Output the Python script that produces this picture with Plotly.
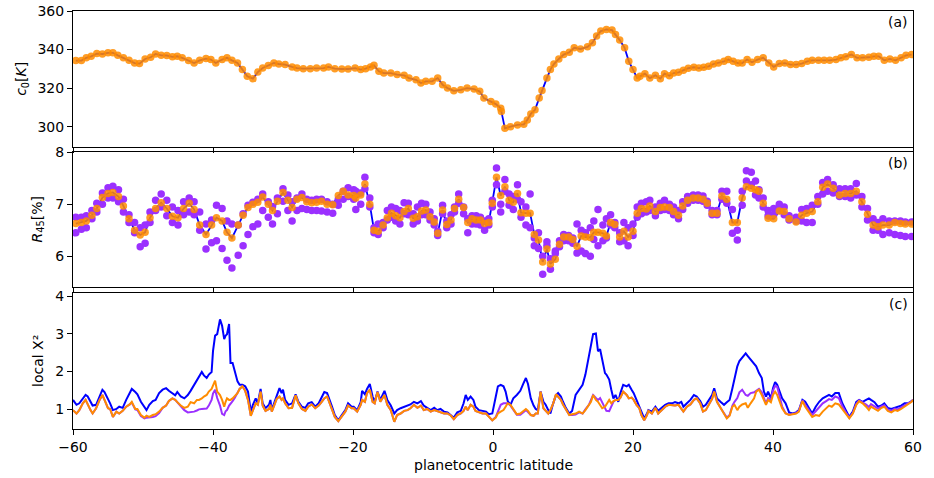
import plotly.graph_objects as go

# ---------------- panel (a): c0 [K] ----------------
lat_a = [-59.6,-58.8,-58.1,-57.4,-56.6,-55.8,-55.0,-54.3,-53.6,-52.8,
         -52.0,-51.2,-50.5,-49.7,-48.9,-48.2,-47.4,-46.6,-45.8,-45.1,
         -44.4,-43.5,-42.7,-41.9,-41.0,-40.3,-39.6,-38.7,-38.0,-37.3,
         -36.5,-35.8,-35.1,-34.3,-33.6,-32.9,-32.1,-31.3,-30.6,-29.7,
         -28.7,-28.0,-27.1,-26.1,-25.2,-24.2,-23.5,-22.6,-21.6,-20.7,
         -19.7,
         -18.9,-18.2,-17.5,-17.0,-16.3,-15.6,-14.6,-13.7,-12.7,-12.0,
         -11.0,-10.3,-9.6,-8.7,-7.9,-7.2,-6.5,-5.6,-4.6,-3.7,
         -2.7,-1.9,-1.3,-0.3,0.4,1.1,1.2,1.7,2.5,3.5,
         4.4,4.9,5.4,6.0,6.6,7.0,7.7,8.2,8.7,9.4,
         10.1,10.9,11.6,12.5,13.5,14.2,14.8,15.4,16.2,17.0,
         17.5,18.1,18.8,19.4,20.0,20.6,
         21.0,21.7,22.4,23.2,23.9,24.5,25.2,25.8,26.5,27.2,
         27.9,28.7,29.4,30.1,30.8,31.5,32.2,33.0,33.6,34.3,
         35.0,35.6,36.3,37.0,37.8,38.6,39.4,40.1,40.9,41.7,
         42.5,43.3,44.1,44.9,45.6,46.5,47.3,48.1,49.0,49.7,
         50.4,51.2,52.0,52.8,53.7,54.4,55.1,55.9,56.7,57.5,
         58.3,59.0,59.8]
c0 = [334.3,334.3,335.7,336.5,337.9,337.7,338.3,338.3,337.0,335.7,
      334.4,333.0,332.7,335.1,336.0,337.7,337.0,336.9,336.2,336.5,
      335.7,334.3,333.0,334.4,335.3,334.8,333.0,334.8,335.7,334.4,
      333.0,329.6,326.1,324.9,328.3,330.4,331.7,333.0,332.5,332.2,
      331.0,330.4,330.1,330.1,330.4,330.4,331.0,330.1,329.9,329.9,
      330.4,
      329.6,330.1,331.0,331.8,328.7,327.8,327.8,327.0,326.6,325.2,
      324.3,322.6,323.5,323.5,325.2,321.7,320.0,318.6,319.1,320.0,
      319.5,318.3,314.8,313.0,311.7,309.6,307.8,299.1,300.0,300.9,
      301.2,303.5,306.6,308.7,314.8,318.8,325.2,329.6,332.5,335.1,
      337.4,338.6,340.9,340.3,341.4,343.5,347.0,349.6,350.4,350.1,
      347.8,344.9,340.9,333.9,329.6,325.2,
      326.1,327.5,325.2,326.6,324.9,327.5,326.4,327.8,328.2,329.2,
      330.3,330.8,330.4,330.8,331.3,332.5,333.0,333.9,334.8,333.9,
      333.0,333.0,334.8,333.4,334.8,335.7,333.0,331.0,332.7,333.0,
      332.2,332.2,332.7,333.9,334.4,334.4,334.4,334.4,334.8,335.7,
      336.2,337.4,335.7,335.7,336.0,336.5,336.5,334.4,335.1,334.4,
      335.7,337.0,337.4]

# ---------------- panel (b): R45 [%] ----------------
lat_b = [-59.6,-58.8,-58.1,-57.3,-56.6,-55.8,-55.0,-54.3,-53.5,-52.8,
         -52.0,-51.2,-50.4,-49.7,-49.0,-48.2,-47.4,-46.6,-45.8,-45.0,
         -44.2,-43.4,-42.7,-41.9,-41.0,-40.2,-39.5,-38.7,-38.0,-37.3,
         -36.4,-35.7,-35.0,-34.3,-33.6,-32.9,-32.1,-31.5,-30.8,-30.0,
         -29.3,-28.7,-28.0,-27.3,-26.6,-25.9,-25.2,-24.5,-23.7,-22.9,
         -22.1,-21.4,-20.7,-19.9,
         -19.6,-18.9,-18.3,-17.6,-17.0,-16.4,-15.7,-15.1,-14.5,-13.9,
         -13.3,-12.7,-12.1,-11.4,-10.8,-10.2,-9.6,-9.0,-8.4,-7.9,
         -7.2,-6.6,-6.0,-5.5,-4.9,-4.2,-3.6,-3.0,-2.4,-1.8,
         -1.2,-0.6,-0.1,0.5,1.1,1.7,2.3,2.9,3.5,4.0,
         4.7,5.3,5.9,6.5,7.1,7.7,8.2,8.9,9.5,10.1,
         10.8,11.4,12.0,12.6,13.2,13.9,14.4,15.0,15.7,16.2,
         16.8,17.4,18.1,18.7,19.3,20.0,20.6,21.2,21.9,
         22.4,23.2,23.9,24.5,25.2,25.8,26.5,27.1,27.8,28.6,
         29.3,30.0,30.6,31.3,32.0,32.7,33.4,34.2,34.9,35.6,
         36.2,36.9,37.5,38.0,38.6,39.3,40.1,40.9,41.6,42.3,
         43.3,44.1,44.8,45.6,46.4,47.1,47.8,48.6,49.5,50.3,
         51.1,51.9,52.7,53.5,54.3,55.0,55.7,56.6,57.4,58.2,
         58.9,59.8]
r45_fit = [6.63,6.65,6.68,6.79,6.92,7.13,7.21,7.23,7.15,6.97,
           6.72,6.50,6.41,6.46,6.74,6.92,7.03,6.92,6.77,6.74,
           6.92,7.02,6.90,6.60,6.42,6.60,6.74,6.68,6.46,6.35,
           6.60,6.79,6.94,7.00,7.04,7.14,7.00,6.88,7.06,7.23,
           7.08,6.94,7.10,7.13,7.05,7.03,7.04,7.06,7.00,6.99,
           7.17,7.25,7.18,7.17,
           7.12,7.18,7.39,7.00,6.50,6.48,6.60,6.74,6.83,6.78,
           6.74,6.86,6.92,6.73,6.76,6.87,6.89,6.76,6.66,6.44,
           6.89,6.61,6.70,6.92,7.10,6.94,6.65,6.72,6.70,6.70,
           6.63,6.65,7.02,7.52,7.17,7.34,7.08,7.04,7.21,6.84,
           6.83,6.83,6.42,6.31,5.89,6.14,5.85,5.94,6.23,6.37,
           6.37,6.32,6.19,6.39,6.37,6.36,6.46,6.46,6.44,6.39,
           6.65,6.61,6.37,6.48,6.37,6.48,6.83,6.92,6.91,
           6.97,6.86,6.94,6.95,6.94,6.86,6.79,6.97,7.08,7.12,
           7.12,7.10,7.02,6.83,6.83,7.16,7.10,6.65,6.65,7.12,
           7.34,7.31,7.28,7.25,7.02,6.73,6.72,6.87,6.86,6.72,
           6.66,6.79,6.83,6.86,7.05,7.33,7.39,7.31,7.18,7.21,
           7.21,7.25,7.05,6.81,6.60,6.57,6.60,6.60,6.65,6.63,
           6.62,6.62]
r45_hi = [6.75,6.75,6.78,6.88,7.02,7.22,7.32,7.35,7.28,7.10,
          6.80,6.65,6.55,6.60,6.85,7.08,7.20,7.08,6.95,6.88,
          7.05,7.12,7.05,6.85,6.62,6.70,6.98,6.92,6.68,6.62,
          6.60,6.82,6.98,7.04,7.10,7.20,7.05,6.96,7.12,7.30,
          7.18,7.05,7.12,7.20,7.10,7.08,7.10,7.10,7.05,7.00,
          7.10,7.25,7.32,7.28,
          7.25,7.22,7.52,7.12,6.55,6.62,6.65,6.88,6.95,6.92,
          6.88,7.03,7.02,6.82,6.95,7.02,7.00,6.85,6.72,6.48,
          6.98,6.68,6.80,6.95,7.20,6.95,6.72,6.78,6.78,6.75,
          6.68,6.72,7.08,7.70,7.00,7.48,7.20,7.15,7.38,7.05,
          6.95,7.20,6.35,6.45,6.00,6.28,5.95,6.10,6.30,6.42,
          6.40,6.35,6.62,6.50,6.45,6.55,6.68,6.90,6.60,6.72,
          6.80,6.65,6.45,6.65,6.55,6.62,6.95,7.02,7.05,
          7.08,6.95,7.02,7.08,7.00,6.95,6.88,7.05,7.15,7.18,
          7.18,7.16,7.06,6.88,6.88,7.25,7.25,6.90,6.50,7.25,
          7.65,7.62,7.45,7.28,7.12,6.88,6.92,7.00,6.95,6.78,
          6.75,6.90,6.92,6.98,7.15,7.42,7.48,7.38,7.30,7.30,
          7.30,7.40,7.15,6.92,6.72,6.65,6.72,6.68,6.68,6.68,
          6.66,6.66]
r45_lo = [6.45,6.52,6.55,6.72,6.85,7.00,7.12,7.12,7.05,6.85,
          6.65,6.45,6.18,6.25,6.65,6.88,6.95,6.78,6.65,6.60,
          6.80,6.85,6.80,6.50,6.14,6.26,6.30,6.15,5.92,5.77,
          6.02,6.20,6.42,6.57,6.62,6.88,6.75,6.62,6.82,7.06,
          6.88,6.68,6.88,6.92,6.90,6.88,6.88,6.87,6.85,6.83,
          6.98,7.10,7.15,7.10,
          6.90,7.00,7.30,6.95,6.45,6.42,6.55,6.70,6.75,6.68,
          6.62,6.82,6.80,6.62,6.68,6.80,6.80,6.70,6.60,6.40,
          6.82,6.55,6.62,6.85,7.02,6.82,6.45,6.62,6.62,6.60,
          6.50,6.60,6.95,7.38,6.85,7.25,6.98,6.90,7.10,6.75,
          6.60,6.55,6.20,6.15,5.65,6.20,5.75,6.05,6.18,6.30,
          6.30,6.25,6.06,6.10,6.05,6.00,6.32,6.20,6.30,6.35,
          6.60,6.55,6.28,6.30,6.20,6.40,6.75,6.82,6.85,
          6.88,6.78,6.88,6.90,6.88,6.80,6.72,6.90,7.02,7.08,
          7.08,7.06,6.98,6.80,6.80,7.10,7.02,6.44,6.31,6.98,
          7.45,7.38,7.18,7.12,6.95,6.78,6.80,6.88,6.80,6.70,
          6.68,6.68,6.65,6.65,7.00,7.20,7.25,7.22,7.15,7.15,
          7.12,7.18,6.95,6.70,6.50,6.50,6.42,6.45,6.42,6.40,
          6.38,6.38]

# ---------------- panel (c): local chi^2 ----------------
lat_c = [-60.0,-59.5,-59.1,-58.6,-58.2,-57.9,-57.5,-57.2,-56.7,-56.2,
         -55.8,-55.5,-55.0,-54.7,-54.3,-53.8,-53.4,-52.9,-52.4,-51.9,
         -51.6,-51.1,-50.8,-50.3,-49.8,-49.5,-49.1,-48.6,-48.2,-47.7,
         -47.2,-46.7,-46.3,-45.8,-45.4,-45.1,-44.6,-44.1,-43.6,-43.2,
         -42.7,-42.3,-42.0,-41.6,-41.3,-40.9,-40.6,-40.2,-40.0,-39.7,
         -39.4,-39.0,-38.7,-38.4,-38.2,-38.0,-37.7,-37.5,-37.2,-36.9,
         -36.5,-36.2,-35.8,-35.4,-35.0,-34.6,-34.3,-33.9,-33.6,-33.2,
         -32.9,-32.5,-32.0,-31.8,-31.6,-31.2,-30.9,-30.5,-30.2,-30.0,
         -29.7,-29.2,-28.7,-28.2,-27.8,-27.3,-26.8,-26.4,-25.9,-25.4,
         -24.9,-24.5,-24.1,-23.7,-23.4,-23.0,-22.6,-22.1,-21.6,-21.1,
         -20.7,-20.2,
         -19.9,-19.4,-18.9,-18.7,-18.3,-18.0,-17.6,-17.2,-16.9,-16.5,
         -16.1,-15.8,-15.5,-15.1,-14.6,-14.1,-13.7,-13.2,-12.7,-12.2,
         -11.8,-11.3,-10.8,-10.3,-9.9,-9.4,-8.9,-8.4,-8.0,-7.5,
         -7.0,-6.5,-6.0,-5.6,-5.1,-4.6,-4.2,-3.9,-3.6,-3.2,
         -2.8,-2.5,-2.0,-1.5,-1.0,-0.6,-0.1,0.4,0.7,1.1,
         1.5,1.8,2.1,2.5,2.9,3.4,3.9,4.3,4.7,5.0,
         5.4,5.8,6.1,6.4,6.8,7.2,7.5,7.9,8.2,8.6,
         9.0,9.3,9.7,10.0,10.4,10.9,11.3,11.8,12.3,12.8,
         13.2,13.7,14.0,14.3,14.7,15.0,15.3,15.6,16.0,16.2,
         16.6,16.9,17.2,17.5,17.9,18.2,18.6,19.1,19.4,19.8,
         20.1,20.5,20.9,21.2,21.6,22.0,
         22.2,22.7,23.2,23.6,24.1,24.6,25.1,25.6,26.0,26.5,
         26.9,27.2,27.7,28.2,28.7,29.1,29.6,30.0,30.4,30.8,
         31.3,31.6,32.0,32.5,33.0,33.4,33.8,34.2,34.5,34.9,
         35.2,35.6,36.1,36.4,36.8,37.3,37.6,38.0,38.4,38.7,
         39.0,39.3,39.7,40.0,40.3,40.6,41.0,41.3,41.8,42.3,
         42.8,43.3,43.7,44.2,44.6,45.1,45.6,46.1,46.6,47.1,
         47.6,48.0,48.4,48.9,49.4,49.9,50.4,50.9,51.4,51.9,
         52.3,52.8,53.3,53.7,54.0,54.5,55.0,55.5,55.9,56.4,
         56.9,57.4,57.8,58.3,58.8,59.3,59.8,60.0]
chi_blue = [1.25,1.12,1.16,1.29,1.38,1.34,1.2,1.1,1.12,1.34,
            1.52,1.46,1.29,1.16,0.98,1.01,1.07,1.04,1.25,1.43,
            1.54,1.46,1.4,1.2,1.04,0.98,1.12,1.22,1.25,1.43,
            1.52,1.56,1.49,1.43,1.37,1.46,1.34,1.29,1.38,1.49,
            1.65,1.79,1.88,1.99,1.9,1.83,1.92,1.99,2.54,2.95,
            2.99,3.38,3.21,2.86,2.95,2.99,3.26,2.23,2.23,2.01,
            1.74,1.65,1.65,1.61,1.47,0.94,1.12,1.29,1.16,1.54,
            1.16,1.03,1.12,1.25,0.98,1.2,1.38,1.56,1.43,1.52,
            1.25,1.12,1.16,1.4,1.2,1.07,1.04,1.16,1.19,1.07,
            1.16,1.29,1.46,1.43,1.29,1.07,0.85,0.71,0.85,0.98,
            1.16,1.07,
            1.07,0.98,1.19,1.49,1.4,1.54,1.67,1.34,1.2,1.47,
            1.25,1.38,1.49,1.25,1.1,0.89,0.98,1.03,1.07,1.1,
            1.13,1.2,1.16,1.22,1.1,1.04,0.98,1.04,0.98,1.01,
            0.94,0.92,0.85,0.78,0.92,0.96,1.16,1.38,1.25,1.34,
            1.25,1.07,0.98,0.96,0.94,0.87,0.89,1.34,1.61,1.65,
            1.61,1.47,1.22,1.12,1.29,1.38,1.49,1.67,1.83,1.67,
            1.29,1.1,1.01,0.98,1.47,1.2,1.13,0.98,0.89,1.16,
            1.37,1.43,1.34,1.2,1.04,0.89,0.96,1.38,1.52,1.65,
            1.92,2.41,2.63,2.99,3.01,2.54,2.59,2.32,1.96,1.92,
            1.79,1.52,1.29,1.38,1.2,1.43,1.65,1.61,1.65,1.52,
            1.43,1.25,1.07,0.89,0.76,0.89,
            0.98,0.94,1.07,0.96,1.03,1.12,1.16,1.16,1.19,1.16,
            1.2,1.07,1.16,1.25,1.38,1.34,1.22,1.07,1.12,1.25,
            1.38,1.56,1.29,1.2,1.12,1.19,1.25,1.56,1.83,2.14,
            2.28,2.37,2.48,2.41,2.32,2.19,2.14,1.96,1.83,1.47,
            1.34,1.47,1.29,1.56,1.72,1.65,1.47,1.29,1.16,0.92,
            0.89,0.92,0.98,1.25,1.2,1.03,0.89,1.07,1.2,1.29,
            1.34,1.38,1.34,1.43,1.43,1.16,0.98,0.8,0.94,1.2,
            1.25,1.2,1.25,1.29,1.25,1.19,1.07,1.1,1.16,1.04,
            1.01,1.04,1.07,1.1,1.16,1.16,1.22,1.25]
chi_orange = [0.98,0.89,0.98,1.16,1.25,1.12,0.98,0.89,1.03,1.25,
              1.38,1.25,1.03,1.01,0.8,0.94,0.89,0.96,1.07,1.13,
              1.2,1.01,1.01,0.85,0.78,0.83,0.8,0.85,0.87,0.94,
              1.04,1.1,1.22,1.29,1.25,1.19,1.1,1.04,1.07,1.19,
              1.16,1.25,1.25,1.29,1.34,1.38,1.47,1.54,1.65,1.76,
              1.47,1.38,1.25,1.07,1.2,1.29,1.25,1.25,1.29,1.34,
              1.43,1.54,1.61,1.49,1.25,0.83,0.98,1.16,1.12,1.47,
              1.1,0.96,1.01,1.12,0.94,1.12,1.28,1.34,1.25,1.29,
              1.16,1.03,1.04,1.37,1.16,1.01,0.96,1.07,1.13,1.03,
              1.1,1.19,1.29,1.34,1.2,1.01,0.8,0.69,0.8,0.94,
              1.1,1.03,
              1.03,0.94,1.12,1.25,1.2,1.43,1.52,1.2,1.16,1.46,
              1.2,1.29,1.38,1.12,0.98,0.67,0.85,0.89,0.96,0.98,
              1.03,1.12,1.04,1.1,0.98,1.01,0.94,0.98,0.96,0.92,
              0.89,0.89,0.83,0.74,0.85,0.89,0.96,1.07,0.98,1.12,
              1.07,0.96,0.92,0.89,0.89,0.8,0.71,0.78,0.89,0.94,
              0.98,1.07,1.16,1.12,1.01,0.87,0.89,0.96,1.01,0.96,
              0.85,0.83,0.89,0.89,1.47,1.03,0.96,0.89,0.98,1.16,
              1.4,1.34,1.25,1.13,1.01,0.85,0.87,0.89,0.94,0.89,
              0.98,1.1,1.2,1.38,1.25,1.2,1.1,1.03,1.07,1.12,
              1.25,1.16,1.22,1.25,1.25,1.31,1.47,1.38,1.29,1.31,
              1.25,1.12,1.03,0.85,0.71,0.85,
              0.96,0.89,1.04,0.89,0.98,1.07,1.12,1.1,1.1,1.12,
              1.03,0.94,1.07,1.13,1.25,1.29,1.16,0.94,0.98,1.1,
              1.28,1.47,1.2,1.04,0.89,0.76,0.83,1.07,1.12,0.98,
              1.07,1.13,1.16,1.04,1.16,1.29,1.47,1.52,1.38,1.22,
              1.12,1.25,1.19,1.38,1.47,1.38,1.16,1.03,0.89,0.85,
              0.87,0.89,0.94,1.22,1.07,0.94,0.8,0.85,0.83,0.94,
              1.04,1.1,1.07,1.16,1.13,1.01,0.89,0.76,0.89,1.12,
              1.22,1.16,1.07,0.98,1.07,1.01,0.96,1.04,1.07,0.96,
              0.92,0.98,0.96,1.01,1.07,1.12,1.2,1.25]
chi_purple = [0.98,0.89,0.98,1.16,1.25,1.12,0.98,0.89,1.03,1.25,
              1.38,1.25,1.03,1.01,0.8,0.94,0.89,0.96,1.07,1.13,
              1.18,1.0,0.98,0.82,0.76,0.78,0.78,0.8,0.82,0.9,
              1.04,1.1,1.22,1.29,1.25,1.19,1.08,0.98,0.92,0.93,
              0.94,0.97,1.0,1.01,1.01,1.02,1.1,1.25,1.42,1.52,
              1.3,1.1,0.88,0.85,0.95,0.98,1.1,1.16,1.22,1.3,
              1.43,1.54,1.61,1.49,1.25,0.83,0.98,1.16,1.12,1.47,
              1.1,0.96,1.01,1.12,0.94,1.12,1.28,1.34,1.25,1.29,
              1.16,1.03,1.04,1.37,1.16,1.01,0.96,1.07,1.13,1.03,
              1.1,1.19,1.29,1.34,1.2,1.01,0.8,0.69,0.8,0.94,
              1.1,1.03,
              1.03,0.94,1.12,1.25,1.2,1.43,1.52,1.2,1.16,1.46,
              1.2,1.29,1.38,1.12,0.98,0.67,0.85,0.89,0.96,0.98,
              1.03,1.12,1.04,1.1,0.98,1.01,0.94,0.98,0.96,0.92,
              0.89,0.89,0.83,0.74,0.85,0.89,0.96,1.07,0.98,1.12,
              1.07,0.96,0.92,0.89,0.89,0.8,0.71,0.8,0.95,1.12,
              1.16,1.15,1.16,1.1,0.98,0.86,0.86,0.93,0.98,0.93,
              0.85,0.83,0.89,0.89,1.47,1.03,0.96,0.89,0.98,1.16,
              1.4,1.34,1.25,1.13,1.01,0.85,0.85,0.86,0.92,0.89,
              1.0,1.12,1.25,1.38,1.3,1.25,1.3,1.2,1.03,0.96,
              0.95,1.1,1.2,1.25,1.25,1.31,1.47,1.38,1.29,1.31,
              1.25,1.12,1.03,0.85,0.71,0.85,
              0.96,0.89,1.04,0.89,0.98,1.07,1.12,1.1,1.1,1.12,
              1.03,0.94,1.07,1.13,1.25,1.29,1.16,0.94,0.98,1.1,
              1.28,1.47,1.2,1.04,0.89,0.78,0.85,1.1,1.2,1.3,
              1.45,1.52,1.38,1.36,1.43,1.45,1.49,1.54,1.45,1.28,
              1.15,1.3,1.25,1.5,1.62,1.6,1.3,1.08,0.9,0.86,
              0.88,0.9,0.96,1.24,1.12,0.98,0.85,0.95,1.05,1.16,
              1.22,1.27,1.25,1.34,1.3,1.08,0.92,0.78,0.9,1.14,
              1.24,1.19,1.13,1.06,1.14,1.08,1.02,1.08,1.11,1.0,
              0.96,1.02,1.0,1.05,1.1,1.14,1.21,1.25]

x_ticks = [-60, -40, -20, 0, 20, 40, 60]
a_ticks = [300, 320, 340, 360]
b_ticks = [6, 7, 8]
c_ticks = [1, 2, 3, 4]

assert len(lat_a) == len(c0)
assert len(lat_b) == len(r45_fit) == len(r45_hi) == len(r45_lo)
assert len(lat_c) == len(chi_blue) == len(chi_orange) == len(chi_purple)

BLUE = "#0000ff"
PURPLE = "#9b30ff"
ORANGE = "#ff8c00"
FONT = "DejaVu Sans"

fig = go.Figure()

# panel a
fig.add_trace(go.Scatter(x=lat_a, y=c0, mode="lines", line=dict(color=BLUE, width=1.8),
                         xaxis="x", yaxis="y", showlegend=False))
fig.add_trace(go.Scatter(x=lat_a, y=c0, mode="markers",
                         marker=dict(color="rgba(255,140,0,0.85)", size=7.5, line=dict(width=0)),
                         xaxis="x", yaxis="y", showlegend=False))
# panel b
fig.add_trace(go.Scatter(x=lat_b, y=r45_fit, mode="lines", line=dict(color=BLUE, width=1.8),
                         xaxis="x2", yaxis="y2", showlegend=False))
for arr in (r45_hi, r45_lo):
    fig.add_trace(go.Scatter(x=lat_b, y=arr, mode="markers",
                             marker=dict(color=PURPLE, size=7.5, line=dict(width=0)),
                             xaxis="x2", yaxis="y2", showlegend=False))
fig.add_trace(go.Scatter(x=lat_b, y=r45_fit, mode="markers",
                         marker=dict(color="rgba(255,140,0,0.85)", size=7.5, line=dict(width=0)),
                         xaxis="x2", yaxis="y2", showlegend=False))
# panel c
fig.add_trace(go.Scatter(x=lat_c, y=chi_blue, mode="lines", line=dict(color=BLUE, width=2),
                         xaxis="x3", yaxis="y3", showlegend=False))
fig.add_trace(go.Scatter(x=lat_c, y=chi_purple, mode="lines", line=dict(color=PURPLE, width=2),
                         xaxis="x3", yaxis="y3", showlegend=False))
fig.add_trace(go.Scatter(x=lat_c, y=chi_orange, mode="lines", line=dict(color=ORANGE, width=2),
                         xaxis="x3", yaxis="y3", showlegend=False))

common_x = dict(range=[-60, 60], tickvals=x_ticks, ticks="outside", ticklen=5, tickwidth=1,
                tickcolor="black", showline=True, linecolor="black", linewidth=1, mirror=True,
                showgrid=False, zeroline=False, automargin=False)
common_y = dict(ticks="outside", ticklen=5, tickwidth=1, tickcolor="black", showline=True,
                linecolor="black", linewidth=1, mirror=True, showgrid=False, zeroline=False,
                tickfont=dict(size=14, color="black"), automargin=False)

fig.update_layout(
    width=934, height=478,
    margin=dict(l=73, r=21, t=11, b=49),
    paper_bgcolor="white", plot_bgcolor="white",
    font=dict(family=FONT, size=14, color="black"),
    xaxis=dict(common_x, anchor="y", domain=[0, 1], showticklabels=False),
    xaxis2=dict(common_x, anchor="y2", domain=[0, 1], showticklabels=False, matches="x"),
    xaxis3=dict(common_x, anchor="y3", domain=[0, 1], showticklabels=True, matches="x",
                tickfont=dict(size=14, color="black")),
    yaxis=dict(common_y, domain=[0.6754, 1.0], range=[289.6, 360], tickvals=a_ticks),
    yaxis2=dict(common_y, domain=[0.339, 0.6634], range=[5.4, 8.015], tickvals=b_ticks),
    yaxis3=dict(common_y, domain=[0.0, 0.3254], range=[0.48, 4.08], tickvals=c_ticks),
)

ann = []
for lbl, xd, yd in (("(a)", "x domain", "y domain"), ("(b)", "x2 domain", "y2 domain"),
                    ("(c)", "x3 domain", "y3 domain")):
    ann.append(dict(text=lbl, xref=xd, yref=yd, x=1, y=1, xanchor="right", yanchor="top",
                    xshift=-3, yshift=-1, showarrow=False, font=dict(size=14)))
ann.append(dict(text="<i>c</i><sub>0</sub>[<i>K</i>]", xref="paper", yref="y domain", x=0, y=0.5,
                xanchor="center", yanchor="middle", xshift=-51, textangle=-90, showarrow=False,
                font=dict(size=14)))
ann.append(dict(text="<i>R</i><sub>45</sub>[%]", xref="paper", yref="y2 domain", x=0, y=0.5,
                xanchor="center", yanchor="middle", xshift=-35, textangle=-90, showarrow=False,
                font=dict(size=14)))
ann.append(dict(text="local X²", xref="paper", yref="y3 domain", x=0, y=0.5,
                xanchor="center", yanchor="middle", xshift=-35, textangle=-90, showarrow=False,
                font=dict(size=14)))
ann.append(dict(text="planetocentric latitude", xref="paper", yref="paper", x=0.5, y=0,
                xanchor="center", yanchor="middle", yshift=-36, showarrow=False,
                font=dict(size=14)))
fig.update_layout(annotations=ann)

fig.write_html("out.html",
               config={"displayModeBar": False},
               post_script="document.documentElement.style.margin='0';"
                           "document.body.style.margin='0';"
                           "document.body.style.overflow='hidden';")
